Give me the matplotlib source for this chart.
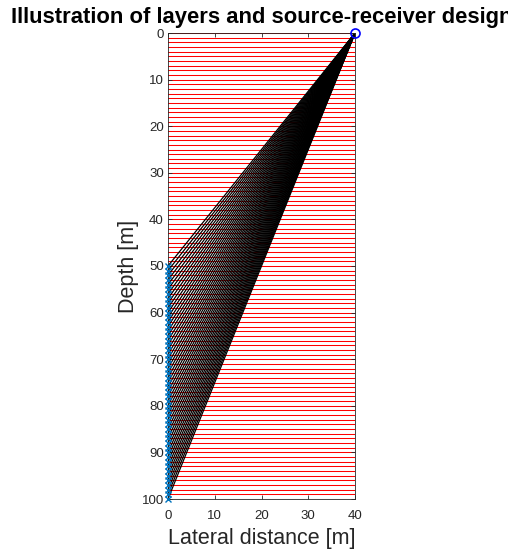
import numpy as np
import matplotlib
matplotlib.use("Agg")
import matplotlib.pyplot as plt

plt.rcParams['font.family'] = ['Liberation Sans', 'DejaVu Sans']

# Data
layer_depths = list(range(0, 101))          # layer boundaries [m]
layer_x = [0, 40]                           # lateral extent of layers [m]
source = (40, 0)                            # source position (x, depth)
receiver_depths = list(range(50, 101))      # receivers at x = 0
receiver_x = 0
xticks = [0, 10, 20, 30, 40]
yticks = [0, 10, 20, 30, 40, 50, 60, 70, 80, 90, 100]

fig = plt.figure(figsize=(5.08, 5.5), dpi=100)
ax = fig.add_axes([168/508, 1-499/550, (355-168)/508, (499-33)/550])

for d in layer_depths:
    ax.plot(layer_x, [d, d], color='red', lw=0.75, zorder=1)

for d in receiver_depths:
    ax.plot([source[0], receiver_x], [source[1], d], color='black', lw=0.9, zorder=2)

ax.plot([receiver_x]*len(receiver_depths), receiver_depths, 'x', color='#0072BD',
        ms=4, mew=1.0, zorder=3, clip_on=False)
ax.plot([source[0]], [source[1]], 'o', color='blue', mfc='none', ms=6.5, mew=1.2,
        zorder=4, clip_on=False)

ax.set_xlim(0, 40)
ax.set_ylim(100, 0)
ax.set_xticks(xticks)
ax.set_yticks(yticks)
ax.tick_params(direction='in', length=3, width=0.6, top=True, right=True,
               labelsize=9.5, colors='#262626', pad=3)
ax.tick_params(axis='x', pad=8)
for s in ax.spines.values():
    s.set_color('#262626')
    s.set_linewidth(0.6)

ax.set_xlabel('Lateral distance [m]', fontsize=15.5, color='#262626', labelpad=4)
ax.set_ylabel('Depth [m]', fontsize=15.5, color='#262626', labelpad=2)
ax.set_title('Illustration of layers and source-receiver design', fontsize=15.8,
             fontweight='bold', pad=7)

fig.savefig('out.png', dpi=100)
